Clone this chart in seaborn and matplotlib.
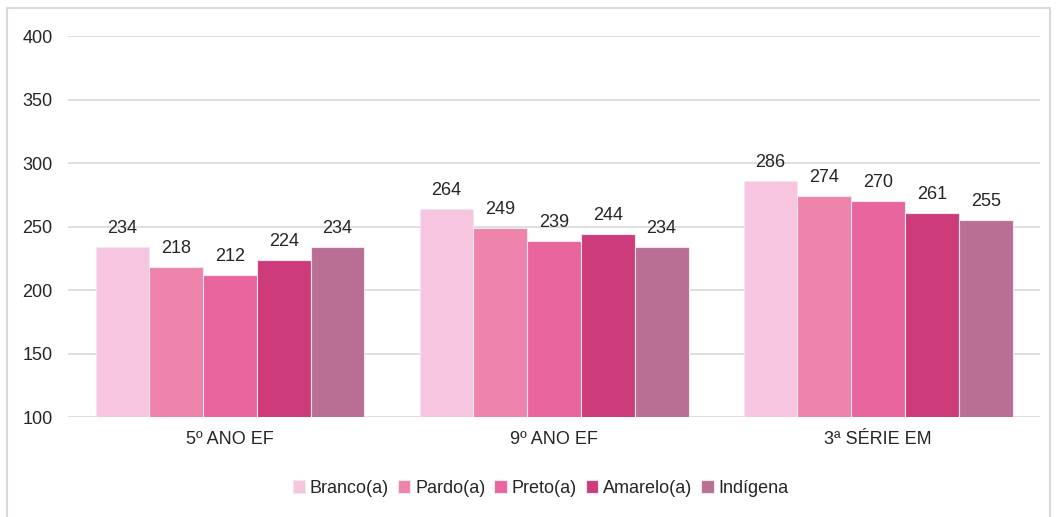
import matplotlib
matplotlib.use("Agg")
import matplotlib.pyplot as plt
import seaborn as sns
import pandas as pd
from matplotlib.patches import Rectangle

# Data
stages = ["5º ANO EF", "9º ANO EF", "3ª SÉRIE EM"]
groups = ["Branco(a)", "Pardo(a)", "Preto(a)", "Amarelo(a)", "Indígena"]
branco = [234, 264, 286]
pardo = [218, 249, 274]
preto = [212, 239, 270]
amarelo = [224, 244, 261]
indigena = [234, 234, 255]
colors = ["#F7C5DF", "#EE83AB", "#E9659E", "#CD3B7B", "#B96F94"]

series = [branco, pardo, preto, amarelo, indigena]
rows = []
for g, vals in zip(groups, series):
    for s, v in zip(stages, vals):
        rows.append({"etapa": s, "grupo": g, "valor": v})
df = pd.DataFrame(rows)

sns.set_style("white")
plt.rcParams["font.family"] = ["Liberation Sans", "DejaVu Sans"]

FS = 13
TXT = "#262626"

fig = plt.figure(figsize=(10.57, 5.17), dpi=100)
ax = fig.add_axes([0.0643, 0.193, 0.9197, 0.737])

sns.barplot(data=df, x="etapa", y="valor", hue="grupo", order=stages,
            hue_order=groups, palette=colors, width=0.83,
            saturation=1, edgecolor="#F4E6EE", linewidth=0.8, ax=ax)

# value labels
for container, vals in zip(ax.containers, series):
    for patch, v in zip(container.patches, vals):
        ax.annotate(f"{v}", (patch.get_x() + patch.get_width() / 2, v),
                    xytext=(0, 10), textcoords="offset points",
                    ha="center", va="baseline", fontsize=FS, color=TXT)

ax.set_ylim(100, 400)
ax.set_yticks(range(100, 401, 50))
ax.set_xlim(-0.5, 2.5)
ax.yaxis.grid(True, color="#D9D9D9", linewidth=1.2)
ax.set_axisbelow(True)
for sp in ax.spines.values():
    sp.set_visible(False)
ax.tick_params(axis="y", length=0, pad=11, labelsize=FS, labelcolor=TXT)
ax.tick_params(axis="x", length=0, pad=10, labelsize=FS, labelcolor=TXT)
ax.set_xlabel("")
ax.set_ylabel("")

handles, labels = ax.get_legend_handles_labels()
ax.legend(handles, labels, loc="center", bbox_to_anchor=(0.486, -0.187),
          ncol=5, frameon=False, fontsize=FS, handlelength=0.7,
          handleheight=0.7, handletextpad=0.25, columnspacing=0.5,
          labelcolor=TXT)

# outer frame
fig.patches.append(Rectangle((7 / 1057, -0.05), 1043 / 1057, 1 - 8 / 517 + 0.05,
                             transform=fig.transFigure, fill=False,
                             edgecolor="#D9D9D9", linewidth=1.5))

fig.savefig("out.png", dpi=100)
